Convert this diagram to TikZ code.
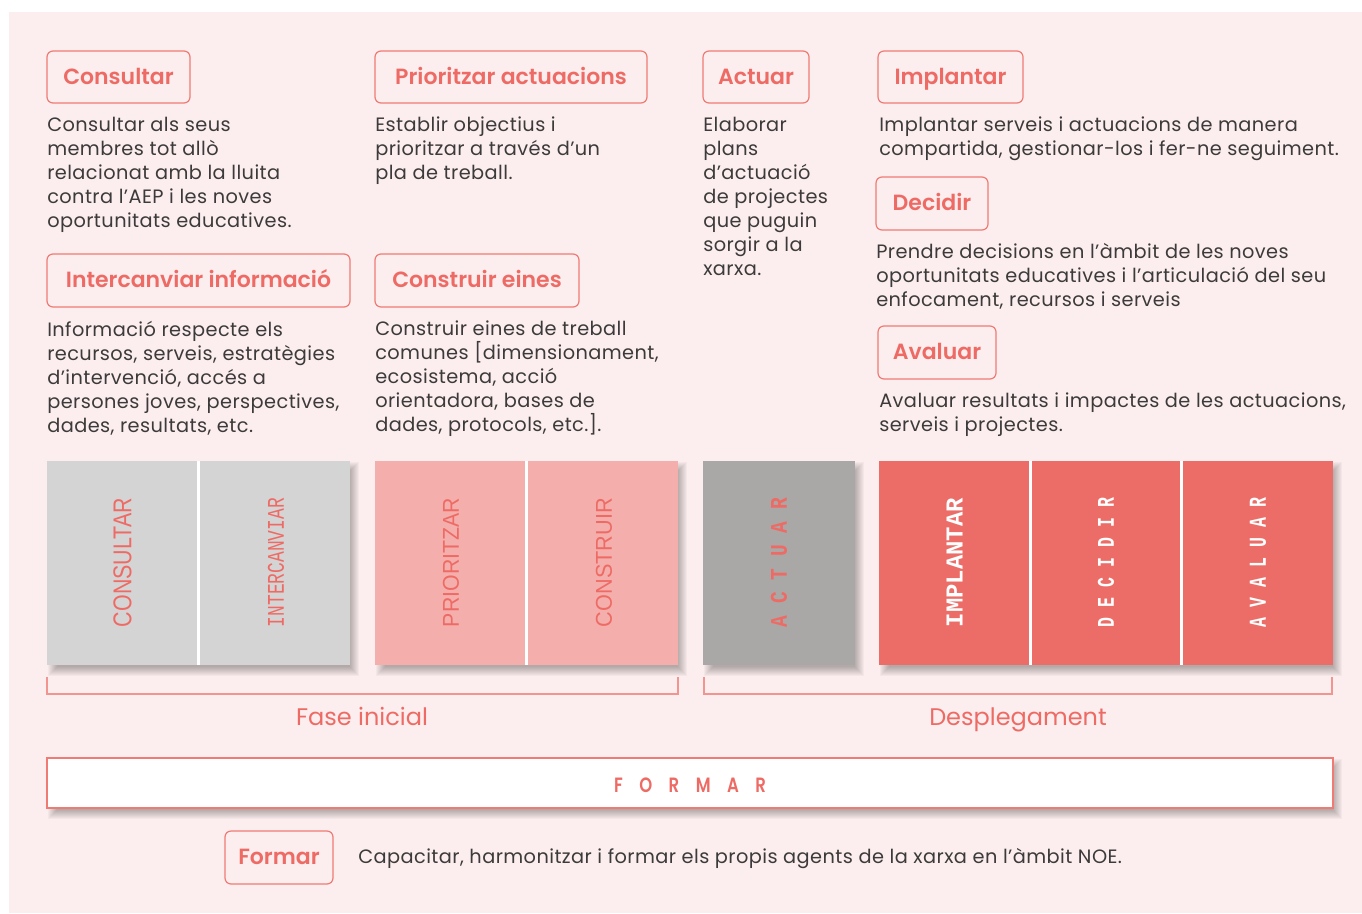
\documentclass[tikz,border=0pt]{standalone}
\usepackage{fontspec}
\usepackage{graphicx}
\setmainfont{Poppins}[LetterSpace=2.2]
\newfontfamily\lblfont{Poppins SemiBold}
\newfontfamily\phasefont{Poppins}
\setsansfont{Liberation Sans}
\setmonofont{Liberation Mono}
\definecolor{bgpink}{HTML}{FCEEEE}
\definecolor{salmon}{HTML}{EE6B65}
\definecolor{boxline}{HTML}{F07A74}
\definecolor{txt}{HTML}{3C3A3A}
\definecolor{grayA}{HTML}{D4D4D4}
\definecolor{pinkB}{HTML}{F4AFAD}
\definecolor{grayC}{HTML}{A9A8A6}
\definecolor{redD}{HTML}{EC6D67}
\definecolor{bracketc}{HTML}{F29490}
\newcommand\softshadow[4]{%
  \foreach \i in {0,...,9}{%
    \fill[black,opacity=0.032] ({#1+10-\i},{#2+10-\i}) rectangle ({#3+\i},{#4+\i+2});
  }}
\tikzset{
  lblbox/.style={draw=boxline, line width=0.9pt, rounded corners=4.5pt},
  lbltext/.style={text=salmon, inner sep=0, text height=14pt, text depth=3pt, font=\lblfont\fontsize{16.5}{18}\selectfont},
  body/.style={text=txt, inner sep=0, align=left, anchor=north west, font=\fontsize{14.5}{18}\selectfont},
  bartext/.style={rotate=90, inner sep=0},
  phase/.style={text=salmon, inner sep=0, anchor=base, font=\phasefont\fontsize{18}{20}\selectfont},
  brk/.style={draw=bracketc, line width=1pt}
}
\newcommand\lbl[6]{%
  \draw[lblbox] (#2,#3) rectangle (#4,#5);
  \node[lbltext] (#1) at ({(#2+#4)/2},{(#3+#5)/2}) {#6};}
\begin{document}
\begin{tikzpicture}[x=0.75pt,y=-0.75pt]
\useasboundingbox (0,0) rectangle (1362,913);
\fill[white] (0,0) rectangle (1362,913);
\fill[bgpink] (9,12) rectangle (1362,913);

% labels
\lbl{lconsult}{47}{51}{190}{103}{Consultar}
\lbl{lprior}{375}{51}{647}{103}{Prioritzar actuacions}
\lbl{lactuar}{703}{51}{809}{103}{Actuar}
\lbl{limpl}{878}{51}{1023}{103}{Implantar}
\lbl{ldecid}{876}{177}{988}{230}{Decidir}
\lbl{laval}{878}{326}{996}{379}{Avaluar}
\lbl{linter}{47}{254}{350}{307}{Intercanviar informació}
\lbl{lconstr}{375}{254}{579}{307}{Construir eines}
\lbl{lformar}{225}{831}{333}{884}{Formar}

% body texts
\node[body] (tconsult) at (47,117) {Consultar als seus\\membres tot allò\\relacionat amb la lluita\\contra l’AEP i les noves\\oportunitats educatives.};
\node[body] (tprior) at (375,117) {Establir objectius i\\prioritzar a través d’un\\pla de treball.};
\node[body] (tactuar) at (703,117) {Elaborar\\plans\\d’actuació\\de projectes\\que puguin\\sorgir a la\\xarxa.};
\node[body] (timpl) at (879,117) {Implantar serveis i actuacions de manera\\compartida, gestionar-los i fer-ne seguiment.};
\node[body] (tdecid) at (876,243) {Prendre decisions en l’àmbit de les noves\\oportunitats educatives i l’articulació del seu\\enfocament, recursos i serveis};
\node[body] (taval) at (879,393) {Avaluar resultats i impactes de les actuacions,\\serveis i projectes.};
\node[body] (tinter) at (47,321) {Informació respecte els\\recursos, serveis, estratègies\\d’intervenció, accés a\\persones joves, perspectives,\\dades, resultats, etc.};
\node[body] (tconstr) at (375,321) {Construir eines de treball\\comunes [dimensionament,\\ecosistema, acció\\orientadora, bases de\\dades, protocols, etc.].};

% bars with shadows
\softshadow{47}{461}{350}{665}
\softshadow{375}{461}{678}{665}
\softshadow{703}{461}{855}{665}
\softshadow{879}{461}{1333}{665}
\fill[grayA] (47,461) rectangle (350,665);
\fill[pinkB] (375,461) rectangle (678,665);
\fill[grayC] (703,461) rectangle (855,665);
\fill[redD] (879,461) rectangle (1333,665);
\fill[white] (197,461) rectangle (200,665);
\fill[white] (525,461) rectangle (528,665);
\fill[white] (1029,461) rectangle (1032,665);
\fill[white] (1180,461) rectangle (1183,665);

\node[bartext,text=salmon] (bconsult) at (122.5,562.5) {\resizebox{96.75pt}{13.5pt}{\sffamily CONSULTAR}};
\node[bartext,text=salmon] (binter) at (276,562.5) {\resizebox{96.75pt}{12pt}{\ttfamily INTERCANVIAR}};
\node[bartext,text=salmon] (bprior) at (451,562.5) {\resizebox{96.75pt}{12pt}{\sffamily PRIORITZAR}};
\node[bartext,text=salmon] (bconstr) at (604,562.5) {\resizebox{96.75pt}{12pt}{\sffamily CONSTRUIR}};
\node[bartext,text=salmon] (bactuar) at (779,562.5) {\resizebox{96.75pt}{12pt}{\ttfamily\bfseries A C T U A R}};
\node[bartext,text=white] (bimpl) at (954.5,562.5) {\resizebox{96.75pt}{12pt}{\ttfamily\bfseries IMPLANTAR}};
\node[bartext,text=white] (bdecid) at (1106,562.5) {\resizebox{96.75pt}{12pt}{\ttfamily\bfseries D E C I D I R}};
\node[bartext,text=white] (baval) at (1258,562.5) {\resizebox{96.75pt}{12pt}{\ttfamily\bfseries A V A L U A R}};

% brackets
\draw[brk] (47,677) -- (47,694) -- (678,694) -- (678,677);
\draw[brk] (704,677) -- (704,694) -- (1332,694) -- (1332,677);
\node[phase] (pfase) at (362,725) {Fase inicial};
\node[phase] (pdesp) at (1018,725) {Desplegament};

% formar bar
\softshadow{47}{758}{1333}{808}
\fill[white] (47,758) rectangle (1333,808);
\draw[boxline, line width=1.5pt] (47,758) rectangle (1333,808);
\node[text=salmon, inner sep=0] (bformar) at (690,785) {\resizebox{114pt}{11pt}{\lblfont F\hspace{1em}O\hspace{1em}R\hspace{1em}M\hspace{1em}A\hspace{1em}R}};

\node[body, anchor=west] (tformar) at (358,859) {Capacitar, harmonitzar i formar els propis agents de la xarxa en l’àmbit NOE.};
\end{tikzpicture}
\end{document}
